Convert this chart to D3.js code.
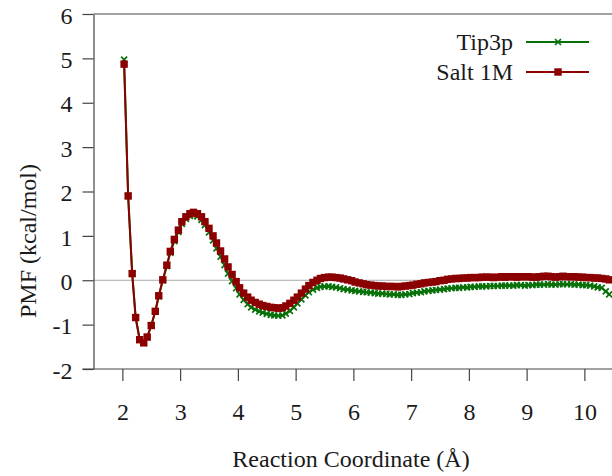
<!DOCTYPE html>
<html>
<head>
<meta charset="utf-8">
<script src="https://cdn.jsdelivr.net/npm/d3@7"></script>
<style>
  body { margin: 0; background: #fff; }
  svg text { font-family: 'Liberation Serif', 'DejaVu Serif', serif; }
</style>
</head>
<body>
<div id="chart"></div>
<script>
// Reaction coordinate (Å)
const coords = [
  2.03, 2.10, 2.17, 2.23, 2.30, 2.37, 2.43, 2.50, 2.57, 2.63, 2.70, 2.77, 2.83, 2.90, 2.97,
  3.03, 3.10, 3.17, 3.23, 3.30, 3.37, 3.43, 3.50, 3.57, 3.63, 3.70, 3.77, 3.83, 3.90, 3.97,
  4.03, 4.10, 4.17, 4.23, 4.30, 4.37, 4.43, 4.50, 4.57, 4.63, 4.70, 4.77, 4.83, 4.90, 4.97,
  5.03, 5.10, 5.17, 5.23, 5.30, 5.37, 5.43, 5.50, 5.57, 5.63, 5.70, 5.77, 5.83, 5.90, 5.97,
  6.03, 6.10, 6.17, 6.23, 6.30, 6.37, 6.43, 6.50, 6.57, 6.63, 6.70, 6.77, 6.83, 6.90, 6.97,
  7.03, 7.10, 7.17, 7.23, 7.30, 7.37, 7.43, 7.50, 7.57, 7.63, 7.70, 7.77, 7.83, 7.90, 7.97,
  8.03, 8.10, 8.17, 8.23, 8.30, 8.37, 8.43, 8.50, 8.57, 8.63, 8.70, 8.77, 8.83, 8.90, 8.97,
  9.03, 9.10, 9.17, 9.23, 9.30, 9.37, 9.43, 9.50, 9.57, 9.63, 9.70, 9.77, 9.83, 9.90, 9.97,
  10.03, 10.10, 10.17, 10.23, 10.30, 10.37, 10.43
];

// PMF (kcal/mol), pure water
const tip3p = [
  4.97, 1.90, 0.15, -0.84, -1.34, -1.41, -1.28, -1.02, -0.70, -0.36, 0.00, 0.32, 0.62, 0.88, 1.09,
  1.27, 1.38, 1.45, 1.47, 1.44, 1.36, 1.24, 1.08, 0.90, 0.72, 0.53, 0.34, 0.15, -0.02, -0.18,
  -0.32, -0.44, -0.54, -0.61, -0.66, -0.70, -0.73, -0.76, -0.78, -0.79, -0.80, -0.79, -0.75, -0.69, -0.61,
  -0.52, -0.43, -0.34, -0.27, -0.21, -0.17, -0.15, -0.14, -0.14, -0.15, -0.16, -0.18, -0.20, -0.21, -0.23,
  -0.24, -0.25, -0.26, -0.27, -0.28, -0.29, -0.30, -0.30, -0.31, -0.32, -0.32, -0.33, -0.33, -0.32, -0.31,
  -0.29, -0.28, -0.27, -0.25, -0.24, -0.23, -0.22, -0.21, -0.20, -0.19, -0.18, -0.17, -0.17, -0.16, -0.16,
  -0.15, -0.15, -0.14, -0.14, -0.14, -0.13, -0.13, -0.13, -0.12, -0.12, -0.12, -0.12, -0.11, -0.11, -0.12,
  -0.11, -0.11, -0.10, -0.10, -0.10, -0.09, -0.10, -0.10, -0.09, -0.09, -0.09, -0.09, -0.10, -0.10, -0.11,
  -0.11, -0.12, -0.14, -0.16, -0.17, -0.25, -0.32
];

// PMF (kcal/mol), 1M salt
const salt1M = [
  4.87, 1.90, 0.15, -0.84, -1.34, -1.41, -1.28, -1.02, -0.70, -0.35, 0.01, 0.34, 0.65, 0.92, 1.13,
  1.32, 1.43, 1.50, 1.53, 1.50, 1.43, 1.32, 1.17, 1.00, 0.84, 0.66, 0.48, 0.30, 0.13, -0.03,
  -0.17, -0.29, -0.38, -0.45, -0.50, -0.54, -0.57, -0.59, -0.61, -0.62, -0.63, -0.62, -0.58, -0.52, -0.45,
  -0.38, -0.29, -0.20, -0.12, -0.05, 0.00, 0.04, 0.06, 0.07, 0.07, 0.06, 0.05, 0.03, 0.01, -0.01,
  -0.04, -0.06, -0.08, -0.10, -0.11, -0.12, -0.13, -0.13, -0.14, -0.14, -0.14, -0.15, -0.14, -0.13, -0.12,
  -0.11, -0.09, -0.08, -0.06, -0.05, -0.04, -0.03, -0.01, 0.00, 0.02, 0.03, 0.04, 0.04, 0.05, 0.05,
  0.06, 0.06, 0.06, 0.07, 0.07, 0.07, 0.06, 0.07, 0.08, 0.07, 0.08, 0.08, 0.07, 0.08, 0.08,
  0.08, 0.07, 0.07, 0.08, 0.09, 0.09, 0.08, 0.07, 0.08, 0.09, 0.08, 0.08, 0.08, 0.07, 0.07,
  0.06, 0.06, 0.05, 0.05, 0.04, 0.03, 0.01
];

const xTicks = [2, 3, 4, 5, 6, 7, 8, 9, 10];
const yTicks = [-2, -1, 0, 1, 2, 3, 4, 5, 6];

const W = 612, H = 476;
const plotLeft = 93.5, plotTop = 14, plotBottom = 369;
const serif = "'Liberation Serif', 'DejaVu Serif', serif";
const fs = 24;

const svg = d3.select('#chart').append('svg')
  .attr('width', W)
  .attr('height', H)
  .attr('font-family', serif);

// Scales
const x = d3.scaleLinear().domain([1.5, 10.5]).range([plotLeft, plotLeft + 9 * 57.75]);
const y = d3.scaleLinear().domain([-2, 6]).range([plotBottom, plotTop]);

// zero line
svg.append('line')
  .attr('x1', plotLeft).attr('x2', W)
  .attr('y1', y(0)).attr('y2', y(0))
  .attr('stroke', '#a8a8a8')
  .attr('stroke-width', 1);

// top border
svg.append('line')
  .attr('x1', plotLeft).attr('x2', W)
  .attr('y1', plotTop).attr('y2', plotTop)
  .attr('stroke', '#444')
  .attr('stroke-width', 1.2);

// Axes (plain hyphen for negatives, like the original)
const yAxisG = svg.append('g')
  .attr('transform', `translate(${plotLeft},0)`)
  .call(d3.axisLeft(y).tickValues(yTicks).tickFormat(d => String(d))
    .tickSize(11).tickSizeOuter(0).tickPadding(10));

const xAxisG = svg.append('g')
  .attr('transform', `translate(0,${plotBottom})`)
  .call(d3.axisBottom(x).tickValues(xTicks).tickFormat(d => String(d))
    .tickSize(12).tickSizeOuter(0).tickPadding(22));

[yAxisG, xAxisG].forEach(g => {
  g.attr('font-family', serif).attr('font-size', fs);
  g.select('.domain').attr('stroke', '#444').attr('stroke-width', 1.2);
  g.selectAll('.tick line').attr('stroke', '#444').attr('stroke-width', 1.2);
  g.selectAll('.tick text').attr('fill', '#1a1a1a');
});
yAxisG.selectAll('.tick text').attr('dy', '0.38em');
// extend bottom axis to the left to meet the -2 tick
xAxisG.select('.domain').attr('d', `M${plotLeft - 11},0H${W}`);

// Axis titles
svg.append('text')
  .attr('x', 351)
  .attr('y', 467)
  .attr('text-anchor', 'middle')
  .attr('font-size', fs)
  .attr('fill', '#1a1a1a')
  .text('Reaction Coordinate (Å)');

svg.append('text')
  .attr('transform', 'translate(36,241) rotate(-90)')
  .attr('text-anchor', 'middle')
  .attr('font-size', fs)
  .attr('fill', '#1a1a1a')
  .text('PMF (kcal/mol)');

const green = '#087008';
const red = '#8b0000';

const series = [
  { name: 'Tip3p', values: tip3p, color: green, marker: 'cross' },
  { name: 'Salt 1M', values: salt1M, color: red, marker: 'square' }
];

const line = d3.line()
  .x(d => x(d[0]))
  .y(d => y(d[1]));

const plot = svg.append('g');

function drawMarker(g, type, color) {
  if (type === 'cross') {
    g.append('path')
      .attr('d', 'M-3,-3L3,3M-3,3L3,-3')
      .attr('stroke', color)
      .attr('stroke-width', 1.7)
      .attr('fill', 'none');
  } else {
    g.append('rect')
      .attr('x', -3.7).attr('y', -3.7)
      .attr('width', 7.4).attr('height', 7.4)
      .attr('fill', color);
  }
}

series.forEach(s => {
  const pts = coords.map((c, i) => [c, s.values[i]]);
  plot.append('path')
    .datum(pts)
    .attr('d', line)
    .attr('fill', 'none')
    .attr('stroke', s.color)
    .attr('stroke-width', 2);

  plot.selectAll(null)
    .data(pts)
    .join('g')
    .attr('transform', d => `translate(${x(d[0])},${y(d[1])})`)
    .each(function() { drawMarker(d3.select(this), s.marker, s.color); });
});

// Legend
const legend = svg.append('g');
series.forEach((s, i) => {
  const ly = 42 + i * 30;
  legend.append('text')
    .attr('x', 513)
    .attr('y', ly)
    .attr('dy', '0.35em')
    .attr('text-anchor', 'end')
    .attr('font-size', fs)
    .attr('fill', '#1a1a1a')
    .text(s.name);
  legend.append('line')
    .attr('x1', 526).attr('x2', 589)
    .attr('y1', ly).attr('y2', ly)
    .attr('stroke', s.color)
    .attr('stroke-width', 2);
  const m = legend.append('g').attr('transform', `translate(558,${ly})`);
  drawMarker(m, s.marker, s.color);
});
</script>
</body>
</html>
